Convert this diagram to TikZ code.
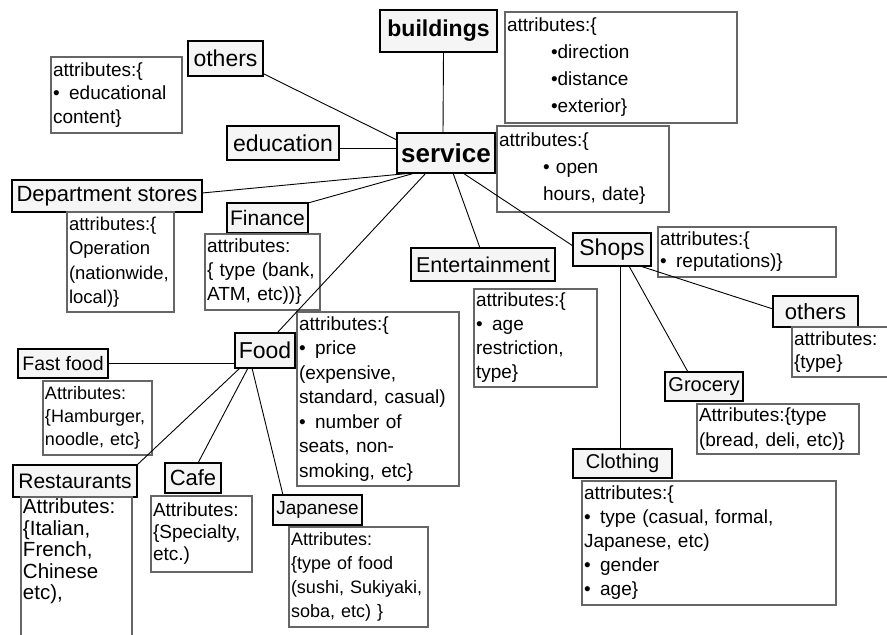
\documentclass[tikz,border=0pt]{standalone}
\usepackage{fontspec}
\setmainfont{Liberation Sans}
\newcommand{\sz}[2]{\fontsize{#1}{#2}\selectfont}

\begin{document}
\begin{tikzpicture}
  [ x=1pt, y=-1pt,
    cat/.style={rectangle, draw=black, line width=2.2pt, fill=black!4, anchor=north west, inner sep=0pt, outer sep=0pt},
    attr/.style={rectangle, draw=black!60, line width=1.1pt, fill=white, anchor=north west, inner sep=2pt, outer sep=0pt, align=left, font={\sz{19}{24}}},
    line/.style={-, line width=0.9pt, black}
  ]

  \useasboundingbox (0,0) rectangle (887,635);
  \clip (0,0) rectangle (887,635);
  \fill[white] (0,0) rectangle (887,635);

  \node[cat, minimum width=117pt, minimum height=42pt, font={\sz{23}{26}\bfseries}] (buildings) at (380,10) {buildings};
  \node[cat, minimum width=98pt, minimum height=40pt, font={\sz{26}{28}\bfseries}] (service) at (397,133) {service};
  \node[cat, minimum width=75pt, minimum height=35pt, font={\sz{23}{26}}] (others) at (188,41) {others};
  \node[cat, minimum width=112pt, minimum height=34pt, font={\sz{23}{26}}] (education) at (227,126) {education};
  \node[cat, minimum width=190pt, minimum height=32pt, font={\sz{22}{24}}] (dept) at (12,180) {Department stores};
  \node[cat, minimum width=81pt, minimum height=30pt, font={\sz{21}{24}}] (finance) at (227,203) {Finance};
  \node[cat, minimum width=144pt, minimum height=33pt, font={\sz{21.5}{24}}] (entertain) at (411,248) {Entertainment};
  \node[cat, minimum width=78pt, minimum height=33pt, font={\sz{23}{26}}] (shops) at (573,233) {Shops};
  \node[cat, minimum width=85pt, minimum height=31pt, font={\sz{22}{24}}] (shopothers) at (773,296) {others};
  \node[cat, minimum width=78pt, minimum height=29pt, font={\sz{20}{22}}] (grocery) at (665,372) {Grocery};
  \node[cat, minimum width=99pt, minimum height=29pt, font={\sz{20}{22}}] (clothing) at (573,449) {Clothing};
  \node[cat, minimum width=60pt, minimum height=35pt, font={\sz{23}{26}}] (food) at (235,333) {Food};
  \node[cat, minimum width=90pt, minimum height=29pt, font={\sz{19.5}{22}}] (fastfood) at (18,349) {Fast food};
  \node[cat, minimum width=124pt, minimum height=32pt, font={\sz{21}{24}}] (restaurants) at (13,465) {Restaurants};
  \node[cat, minimum width=56pt, minimum height=30pt, font={\sz{22}{24}}] (cafe) at (165,463) {Cafe};
  \node[cat, minimum width=89pt, minimum height=30pt, font={\sz{19}{22}}] (japanese) at (273,495) {Japanese};

  \node[attr, text width=127pt, minimum height=76pt, font={\sz{19}{23.5}}] (educationattr) at (51,57) {attributes:\{\\•\enspace educational\\content\}};
  \node[attr, text width=228pt, minimum height=111pt, font={\sz{19}{27}}] (buildingsattr) at (505,12) {attributes:\{\\\hspace*{44pt}•direction\\\hspace*{44pt}•distance\\\hspace*{44pt}•exterior\}};
  \node[attr, text width=168pt, minimum height=86pt, font={\sz{19}{27}}] (serviceattr) at (497,126) {attributes:\{\\\hspace*{44pt}• open\\\hspace*{44pt}hours, date\}};
  \node[attr, text width=103pt, minimum height=100pt, font={\sz{18.5}{24.5}}] (deptattr) at (67,212) {attributes:\{\\Operation\\(nationwide,\\local)\}};
  \node[attr, text width=111pt, minimum height=76pt] (financeattr) at (205,234) {attributes:\\\{ type (bank,\\ATM, etc))\}};
  \node[attr, text width=158pt, minimum height=174pt, font={\sz{19}{24.5}}] (foodattr) at (297,312) {attributes:\{\\•\enspace price\\(expensive,\\standard, casual)\\•\enspace number of\\seats, non-\\smoking, etc\}};
  \node[attr, text width=119pt, minimum height=98pt] (entertainattr) at (474,289) {attributes:\{\\•\enspace age\\restriction,\\type\}};
  \node[attr, text width=174pt, minimum height=50pt, font={\sz{19}{22}}] (shopsattr) at (658,227) {attributes:\{\\•\enspace reputations)\}};
  \node[attr, text width=96pt, minimum height=50pt, font={\sz{19}{23}}] (shopothersattr) at (792,327) {attributes:\\\{type\}};
  \node[attr, text width=158pt, minimum height=50pt, font={\sz{19}{25}}] (groceryattr) at (697,404) {Attributes:\{type\\(bread, deli, etc)\}};
  \node[attr, text width=250pt, minimum height=124pt] (clothingattr) at (582,481) {attributes:\{\\•\enspace type (casual, formal,\\Japanese, etc)\\•\enspace gender\\•\enspace age\}};
  \node[attr, text width=105pt, minimum height=74pt, font={\sz{18}{23}}] (fastfoodattr) at (43,381) {Attributes:\\\{Hamburger,\\noodle, etc\}};
  \node[attr, text width=107pt, font={\sz{20.5}{21.5}}] (restaurantsattr) at (21,497) {Attributes:\\\{Italian,\\French,\\Chinese\\etc),\\\strut\\\strut};
  \node[attr, text width=97pt, minimum height=76pt, font={\sz{19}{22}}] (cafeattr) at (151,496) {Attributes:\\\{Specialty,\\etc.)};
  \node[attr, text width=135pt, minimum height=100pt, font={\sz{18}{24}}] (japaneseattr) at (289,527) {Attributes:\\\{type of food\\(sushi, Sukiyaki,\\soba, etc) \}};

  \draw[line] ([xshift=5pt]buildings.south) -- ([xshift=-3pt]service.north);
  \draw[line] ([yshift=-15pt]others.east) -- ([yshift=13pt]service.west);
  \draw[line] ([yshift=-5pt]education.east) -- ([yshift=-5pt]education.east -| service.west);
  \draw[line] ([yshift=3pt]dept.east) -- ([xshift=16pt]service.south west);
  \draw[line] (finance.north east) -- ([xshift=18pt]service.south west);
  \draw[line] ([xshift=29pt]service.south west) -- ([xshift=12pt]food.north);
  \draw[line] ([xshift=56pt]service.south west) -- ([xshift=-3pt]entertain.north);
  \draw[line] ([xshift=66pt]service.south west) -- ([yshift=3.5pt]shops.west);
  \draw[line] ([xshift=8pt]shops.south) -- ([xshift=8pt]shops.south |- clothing.north);
  \draw[line] ([xshift=17pt]shops.south) -- ([xshift=-16pt]grocery.north);
  \draw[line] ([xshift=28pt]shops.south) -- ([yshift=2.5pt]shopothers.west);
  \draw[line] (fastfood.east) -- (fastfood.east -| food.west);
  \draw[line] ([xshift=5pt]food.south west) -- (restaurants.north east);
  \draw[line] ([xshift=13pt]food.south west) -- ([xshift=5pt]cafe.north);
  \draw[line] ([xshift=17pt]food.south west) -- ([xshift=10pt]japanese.north west);
\end{tikzpicture}
\end{document}
